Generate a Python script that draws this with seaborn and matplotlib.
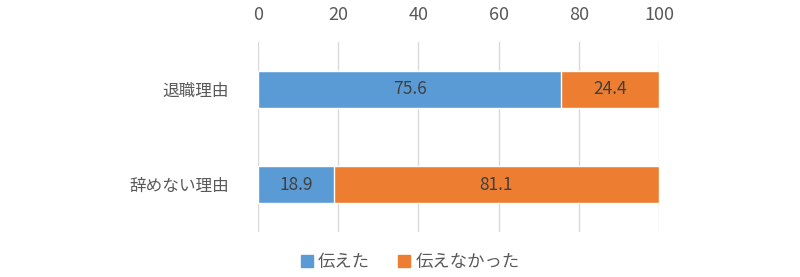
import matplotlib
matplotlib.use("Agg")
import matplotlib.pyplot as plt
import seaborn as sns
import pandas as pd
from matplotlib.patches import Patch

categories = ["退職理由", "辞めない理由"]
told = [75.6, 18.9]
not_told = [24.4, 81.1]
series_names = ["伝えた", "伝えなかった"]
xticks = [0, 20, 40, 60, 80, 100]

BLUE = "#5B9BD5"
ORANGE = "#ED7D31"
TXT = "#595959"

sns.set_theme(style="white")
plt.rcParams['font.family'] = ['Noto Sans CJK JP', 'DejaVu Sans']

df = pd.DataFrame({"cat": categories, "told": told, "not_told": not_told})
df["total"] = df["told"] + df["not_told"]

fig = plt.figure(figsize=(8, 2.77), dpi=100)
ax = fig.add_axes([258/800, 45/277, 401/800, 190/277])

sns.barplot(data=df, y="cat", x="total", color=ORANGE, width=0.39, ax=ax,
            saturation=1, zorder=2)
sns.barplot(data=df, y="cat", x="told", color=BLUE, width=0.39, ax=ax,
            saturation=1, zorder=3)

for i, (a, b) in enumerate(zip(told, not_told)):
    ax.text(a / 2, i, f"{a}", ha="center", va="center", fontsize=12.5, color="#404040", zorder=4)
    ax.text(a + b / 2, i, f"{b}", ha="center", va="center", fontsize=12.5, color="#404040", zorder=4)

ax.set_xlim(0, 100)
ax.set_ylim(1.5, -0.5)
ax.set_xticks(xticks)
ax.xaxis.tick_top()
ax.tick_params(axis="x", length=0, pad=13, labelsize=13, labelcolor=TXT)
ax.tick_params(axis="y", length=0, pad=21, labelsize=12, labelcolor=TXT)
ax.set_xlabel("")
ax.set_ylabel("")
ax.grid(axis="x", color="#D9D9D9", linewidth=1, zorder=0)
ax.set_axisbelow(True)
for s in ax.spines.values():
    s.set_visible(False)

h = [Patch(color=BLUE), Patch(color=ORANGE)]
fig.legend(h, series_names, loc="center", bbox_to_anchor=(410/800, 1 - 262/277),
           ncol=2, frameon=False, fontsize=12.5, handlelength=0.7, handleheight=0.7,
           handletextpad=0.3, columnspacing=1.6, labelcolor=TXT)

fig.savefig("out.png", dpi=100)
